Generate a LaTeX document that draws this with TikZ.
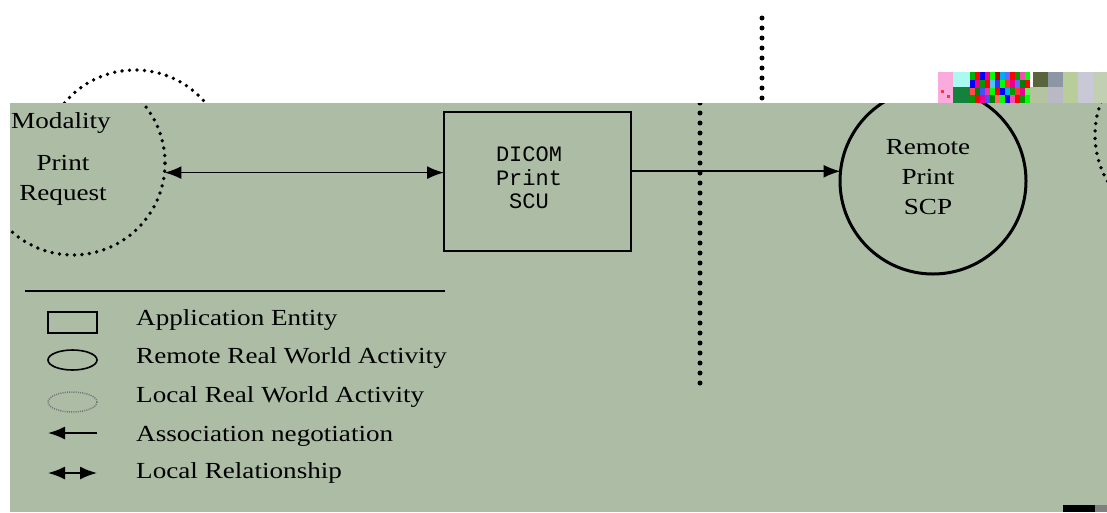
\documentclass[tikz,border=0pt]{standalone}
\usepackage{fontspec}
\setmainfont[FakeStretch=1.18]{Liberation Serif}
\newfontfamily\monofnt{Liberation Mono}
\usetikzlibrary{arrows.meta}
\definecolor{bggreen}{RGB}{172,188,165}
\tikzset{
  txt/.style={font=\fontsize{23}{30}\selectfont, inner sep=0pt, align=center},
  legtxt/.style={font=\fontsize{23}{30}\selectfont, inner sep=0pt, anchor=west},
  dotline/.style={line width=3.8pt, dash pattern=on 0pt off 7.5pt, line cap=round},
  vdotline/.style={line width=5pt, dash pattern=on 0pt off 10pt, line cap=round},
  onetip/.style={line width=1.7pt, -{Latex[length=17pt,width=13pt]}},
  twotip/.style={line width=1.7pt, {Latex[length=17pt,width=13pt]}-{Latex[length=17pt,width=13pt]}},
  local/.style={circle, draw, dotline, minimum size=184pt, inner sep=0pt, outer sep=0pt},
  remote/.style={circle, draw, line width=3pt, minimum size=186pt, inner sep=0pt, outer sep=0pt},
  entity/.style={rectangle, draw, line width=1.8pt, minimum width=187pt, minimum height=139pt, inner sep=0pt, outer sep=0pt},
}
\definecolor{gpink}{RGB}{250,170,220}
\definecolor{gcyan}{RGB}{170,250,240}
\definecolor{golive}{RGB}{90,100,60}
\definecolor{ggray}{RGB}{140,150,165}
\definecolor{glgreen}{RGB}{185,205,155}
\definecolor{glav}{RGB}{200,200,215}
\definecolor{gsage}{RGB}{180,195,160}
\definecolor{gdgreen}{RGB}{20,130,60}
\begin{document}
\begin{tikzpicture}[x=1pt, y=-1pt]
\useasboundingbox (0,0) rectangle (1107,512);
\fill[white] (0,0) rectangle (1107,512);
% upper (white) band, shifted part of the picture
\begin{scope}
  \clip (0,0) rectangle (1107,103);
  \node[local] (modtop) at (135,162) {};
  \coordinate (vtopA) at (762,18);
  \coordinate (vtopB) at (762,103);
  \draw[vdotline] (vtopA) -- (vtopB);
\end{scope}
% glitch block top right
\fill[gpink] (938,72) rectangle (953,103);
\fill[red!80] (941,90) rectangle (944,93);
\fill[red!80] (947,95) rectangle (950,98);
\fill[gcyan] (953,72) rectangle (970,87);
\fill[gdgreen] (953,87) rectangle (970,103);
\foreach \i/\c in {0/green!70!black,1/red,2/blue,3/magenta,4/green,5/red!70!black,6/cyan,7/blue!60,8/red,9/green!60!black,10/magenta!70,11/green}{
  \fill[\c] (970+\i*5,72) rectangle (975+\i*5,80);
}
\foreach \i/\c in {0/blue,1/magenta,2/green!60!black,3/red,4/cyan!70,5/blue!80,6/green,7/red!80,8/magenta,9/blue!60,10/green!50!black,11/red}{
  \fill[\c] (970+\i*5,80) rectangle (975+\i*5,88);
}
\foreach \i/\c in {0/red!70,1/green!50!black,2/blue!70,3/magenta!80,4/green,5/red,6/blue,7/cyan,8/green!60!black,9/red!80,10/magenta,11/green!70}{
  \fill[\c] (970+\i*5,88) rectangle (975+\i*5,95);
}
\foreach \i/\c in {0/green!60!black,1/red,2/magenta,3/blue!70,4/green!50!black,5/red!60,6/green,7/blue,8/magenta!70,9/red,10/green!60!black,11/green}{
  \fill[\c] (970+\i*5,95) rectangle (975+\i*5,103);
}
\fill[golive] (1033,72) rectangle (1048,87);
\fill[gsage] (1030,87) rectangle (1048,103);
\fill[ggray] (1048,72) rectangle (1063,87);
\fill[glav!80!gray] (1048,87) rectangle (1063,103);
\fill[glgreen] (1063,72) rectangle (1078,103);
\fill[glav] (1078,72) rectangle (1093,103);
\fill[gsage!80!white] (1093,72) rectangle (1107,103);
% main green panel
\begin{scope}
  \clip (10,103) rectangle (1107,512);
  \fill[bggreen] (10,103) rectangle (1107,512);
  \node[local] (modality) at (73,163) {};
  \node[local] (farlocal) at (1187,135) {};
  \node[txt] (modtxt1) at (61,123) {Modality};
  \node[txt] (modtxt2) at (63,180) {Print\\Request};
  \node[entity] (scu) at (537.5,181.5) {};
  \node[txt, font=\monofnt\fontsize{22}{23.5}\selectfont] (scutxt) at (529,178) {DICOM\\Print\\SCU};
  \node[remote] (scp) at (933,181) {};
  \node[txt] (scptxt) at (928,177) {Remote\\Print\\SCP};
  \draw[twotip] (modality.-6) -- (modality.-6 -| scu.west);
  \draw[onetip] (scp.174 -| scu.east) -- (scp.174);
  \coordinate (vA) at (700,103);
  \coordinate (vB) at (700,393);
  \draw[vdotline] (vA) -- (vB);
  % legend
  \coordinate (lineA) at (25,291);
  \coordinate (lineB) at (445,291);
  \draw[line width=1.5pt] (lineA) -- (lineB);
  \draw[line width=1.6pt] (48,312) rectangle (97,333);
  \draw[line width=1.6pt] (72.5,360) ellipse [x radius=24.5, y radius=10];
  \draw[line width=1.5pt, dash pattern=on 1pt off 1.2pt, black!55] (72.5,402) ellipse [x radius=24.5, y radius=10];
  \coordinate (a1) at (97,433);
  \coordinate (a2) at (48,433);
  \draw[onetip] (a1) -- (a2);
  \coordinate (b1) at (48,473);
  \coordinate (b2) at (97,473);
  \draw[twotip] (b1) -- (b2);
  \node[legtxt] (l1) at (136,320) {Application Entity};
  \node[legtxt] (l2) at (136,358) {Remote Real World Activity};
  \node[legtxt] (l3) at (136,397) {Local Real World Activity};
  \node[legtxt] (l4) at (136,436) {Association negotiation};
  \node[legtxt] (l5) at (136,473) {Local Relationship};
  \fill[black] (1063,505) rectangle (1095,512);
  \fill[gray] (1095,505) rectangle (1107,512);
\end{scope}
\end{tikzpicture}
\end{document}
